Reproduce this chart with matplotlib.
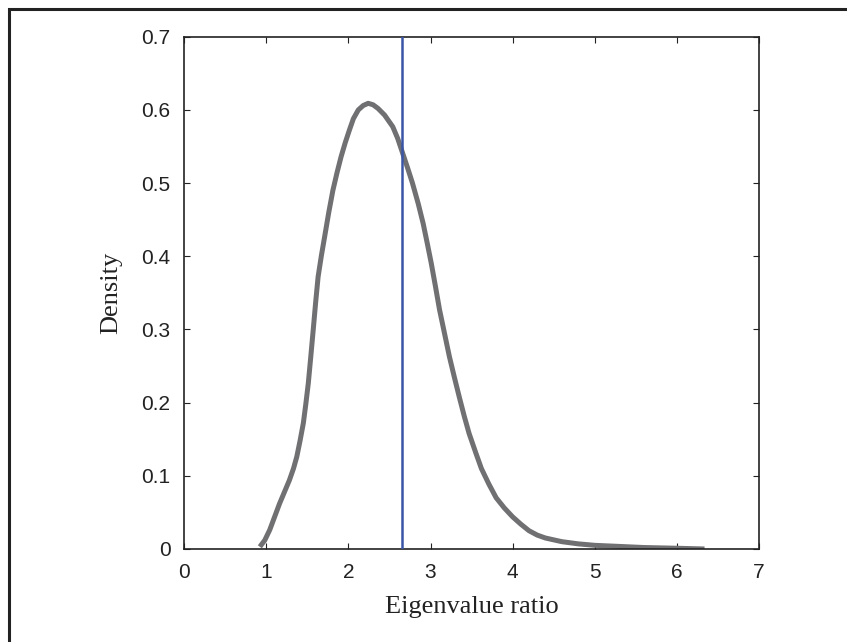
import matplotlib
matplotlib.use("Agg")
from matplotlib import pyplot as plt
from matplotlib.patches import Rectangle

# density curve
ratio = [0.92, 0.98, 1.04, 1.10, 1.16, 1.22, 1.28, 1.33, 1.37, 1.41, 1.45, 1.48, 1.51,
         1.54, 1.57, 1.60, 1.63, 1.67, 1.71, 1.76, 1.81, 1.86, 1.91, 1.96, 2.01, 2.06,
         2.12, 2.18, 2.24, 2.30, 2.36, 2.44, 2.54, 2.60, 2.66, 2.72, 2.78, 2.85, 2.91,
         2.96, 3.01, 3.06, 3.11, 3.17, 3.23, 3.29, 3.35, 3.41, 3.47, 3.55, 3.62, 3.71,
         3.80, 3.90, 4.00, 4.10, 4.20, 4.30, 4.40, 4.60, 4.80, 5.00, 5.20, 5.60, 6.00, 6.34]
density = [0.003, 0.012, 0.026, 0.044, 0.062, 0.078, 0.094, 0.110, 0.126, 0.148, 0.172, 0.198, 0.226,
           0.262, 0.299, 0.337, 0.372, 0.401, 0.427, 0.460, 0.490, 0.514, 0.536, 0.555, 0.572, 0.588,
           0.600, 0.606, 0.609, 0.607, 0.602, 0.593, 0.577, 0.561, 0.541, 0.521, 0.500, 0.472, 0.445,
           0.418, 0.390, 0.359, 0.327, 0.295, 0.263, 0.235, 0.208, 0.182, 0.158, 0.132, 0.110, 0.089,
           0.070, 0.056, 0.044, 0.034, 0.025, 0.019, 0.015, 0.010, 0.007, 0.005, 0.004, 0.002, 0.001, 0.0]
observed = 2.655

fig = plt.figure(figsize=(8.47, 6.42), dpi=100)
ax = fig.add_axes([0.2177, 0.1449, 0.678, 0.7979])

ax.plot(ratio, density, color='#707073', lw=3.6, solid_capstyle='butt',
        solid_joinstyle='round', zorder=2)
ax.axvline(observed, color='#3b55a6', lw=1.8, zorder=3)

ax.set_xlim(0, 7)
ax.set_ylim(0, 0.7)
ax.set_xticks(range(0, 8))
ax.set_yticks([0, 0.1, 0.2, 0.3, 0.4, 0.5, 0.6, 0.7])
ax.set_yticklabels(['0', '0.1', '0.2', '0.3', '0.4', '0.5', '0.6', '0.7'])

ax.tick_params(direction='in', length=4.3, width=0.8, top=True, right=True,
               labelsize=15, pad=10, colors='#222222')
for lab in ax.get_xticklabels() + ax.get_yticklabels():
    lab.set_fontfamily('Liberation Sans')
for s in ax.spines.values():
    s.set_linewidth(1.2)
    s.set_color('#222222')

ax.set_xlabel('Eigenvalue ratio', family='Liberation Serif', fontsize=19, labelpad=10, color='#222222')
ax.set_ylabel('Density', family='Liberation Serif', fontsize=19, labelpad=14, color='#222222')

# outer frame, runs off the right and bottom edges
fig.patches.append(Rectangle((9 / 847, -0.1), 1.2, 1 - 9 / 642 + 0.1, transform=fig.transFigure,
                             fill=False, lw=2.2, edgecolor='#222222'))

fig.savefig('out.png', dpi=100)
